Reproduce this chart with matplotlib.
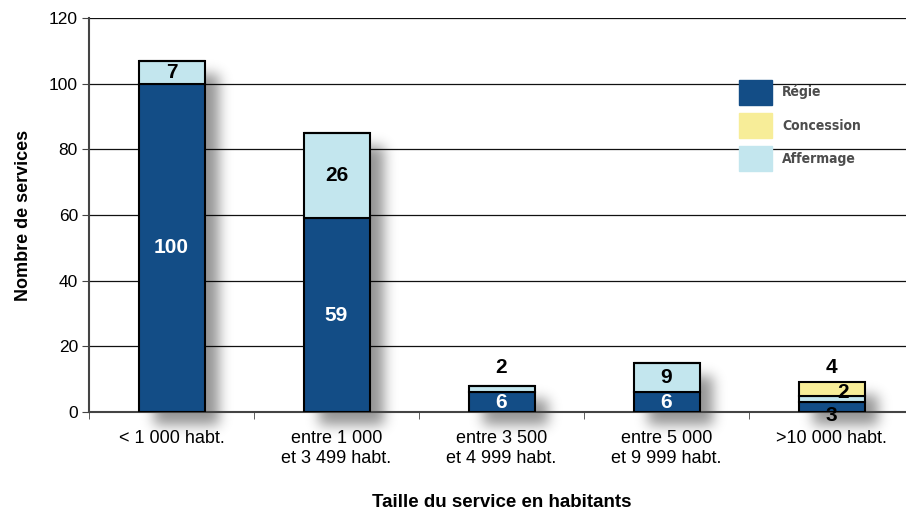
import numpy as np
import matplotlib
matplotlib.use("Agg")
import matplotlib.pyplot as plt

# Data
categories = ["< 1 000 habt.", "entre 1 000\net 3 499 habt.", "entre 3 500\net 4 999 habt.",
              "entre 5 000\net 9 999 habt.", ">10 000 habt."]
regie = [100, 59, 6, 6, 3]
affermage = [7, 26, 2, 9, 2]
concession = [0, 0, 0, 0, 4]

c_regie = "#134d86"
c_conc = "#f7ed98"
c_aff = "#c3e6ee"

plt.rcParams['font.family'] = ['Liberation Sans', 'DejaVu Sans']

fig = plt.figure(figsize=(9.06, 5.12), dpi=100)
ax = fig.add_axes([89 / 906, 1 - 412 / 512, 825 / 906, 394 / 512])

x = np.arange(len(categories))
w = 0.4
regie = np.array(regie)
affermage = np.array(affermage)
concession = np.array(concession)
totals = regie + affermage + concession

# blurred drop shadow behind the bars
nx, ny = 825, 440
y_lo = -14.0
gx = np.linspace(-0.5, 4.5, nx)
gy = np.linspace(y_lo, 120, ny)
mask = np.zeros((ny, nx))
for i in x:
    inx = (gx > i - w / 2 + 0.09) & (gx < i + w / 2 + 0.085)
    iny = (gy > -4) & (gy < totals[i] - 4)
    mask[np.ix_(iny, inx)] = 1.0
k = np.arange(-20, 21)
kern = np.exp(-k ** 2 / (2 * 6.5 ** 2))
kern /= kern.sum()
mask = np.apply_along_axis(lambda r: np.convolve(r, kern, mode="same"), 1, mask)
mask = np.apply_along_axis(lambda c: np.convolve(c, kern, mode="same"), 0, mask)
img = np.zeros((ny, nx, 4))
img[..., 3] = 0.42 * mask
ax.imshow(img, extent=(-0.5, 4.5, y_lo, 120), origin="lower", aspect="auto",
          zorder=1, clip_on=False, interpolation="bilinear")

ax.bar(x, regie, w, color=c_regie, edgecolor="black", linewidth=1.5, zorder=3)
ax.bar(x, affermage, w, bottom=regie, color=c_aff, edgecolor="black", linewidth=1.5, zorder=3)
ax.bar(x, concession, w, bottom=regie + affermage, color=c_conc, edgecolor="black",
       linewidth=1.5, zorder=3)

# value labels
fs = 15
for i in x:
    r, a, c = regie[i], affermage[i], concession[i]
    if r >= 5:
        ax.text(i, r / 2, str(r), ha="center", va="center", color="white",
                fontsize=fs, fontweight="bold", zorder=5)
    else:
        ax.text(i, -1, str(r), ha="center", va="center", color="black",
                fontsize=fs, fontweight="bold", zorder=5)
    if a >= 5:
        ax.text(i, r + a / 2, str(a), ha="center", va="center", color="black",
                fontsize=fs, fontweight="bold", zorder=5)
    elif c == 0:
        ax.text(i, r + a + 5.7, str(a), ha="center", va="center", color="black",
                fontsize=fs, fontweight="bold", zorder=5)
    else:
        ax.text(i + 0.07, r + a / 2 + 2, str(a), ha="center", va="center", color="black",
                fontsize=fs, fontweight="bold", zorder=5)
    if c > 0:
        ax.text(i, r + a + c + 4.7, str(c), ha="center", va="center", color="black",
                fontsize=fs, fontweight="bold", zorder=5)

ax.set_xlim(-0.5, 4.5)
ax.set_ylim(0, 120)
ax.set_yticks(np.arange(0, 121, 20))
ax.yaxis.grid(True, color="#111111", linewidth=0.9, zorder=0)
ax.set_axisbelow(True)

ax.set_xticks(x)
ax.set_xticklabels(categories, fontsize=13)
ax.set_xticks(np.arange(-0.5, 4.6, 1), minor=True)
ax.tick_params(axis="x", which="major", length=0, pad=13)
ax.tick_params(axis="x", which="minor", length=5, direction="out", color="#444444")
ax.tick_params(axis="y", labelsize=12.5, length=5, color="#444444", pad=3)

for s in ["top", "right"]:
    ax.spines[s].set_visible(False)
ax.spines["left"].set_color("#444444")
ax.spines["left"].set_linewidth(1.5)
ax.spines["bottom"].set_color("#444444")
ax.spines["bottom"].set_linewidth(1.5)

ax.set_ylabel("Nombre de services", fontsize=13, fontweight="bold", labelpad=12)
ax.set_xlabel("Taille du service en habitants", fontsize=13.5, fontweight="bold", labelpad=20)

handles = [plt.Rectangle((0, 0), 1, 1, color=c_regie),
           plt.Rectangle((0, 0), 1, 1, color=c_conc),
           plt.Rectangle((0, 0), 1, 1, color=c_aff)]
leg = ax.legend(handles, ["Régie", "Concession", "Affermage"], loc="upper left",
                bbox_to_anchor=(0.773, 0.875), frameon=False, handlelength=2.33,
                handleheight=2.37, labelspacing=0.61, handletextpad=0.75,
                prop={"family": ["DejaVu Sans"], "stretch": "condensed",
                      "weight": "bold", "size": 10})
for t in leg.get_texts():
    t.set_color("#4d4d4d")

fig.savefig("out.png", dpi=100)
